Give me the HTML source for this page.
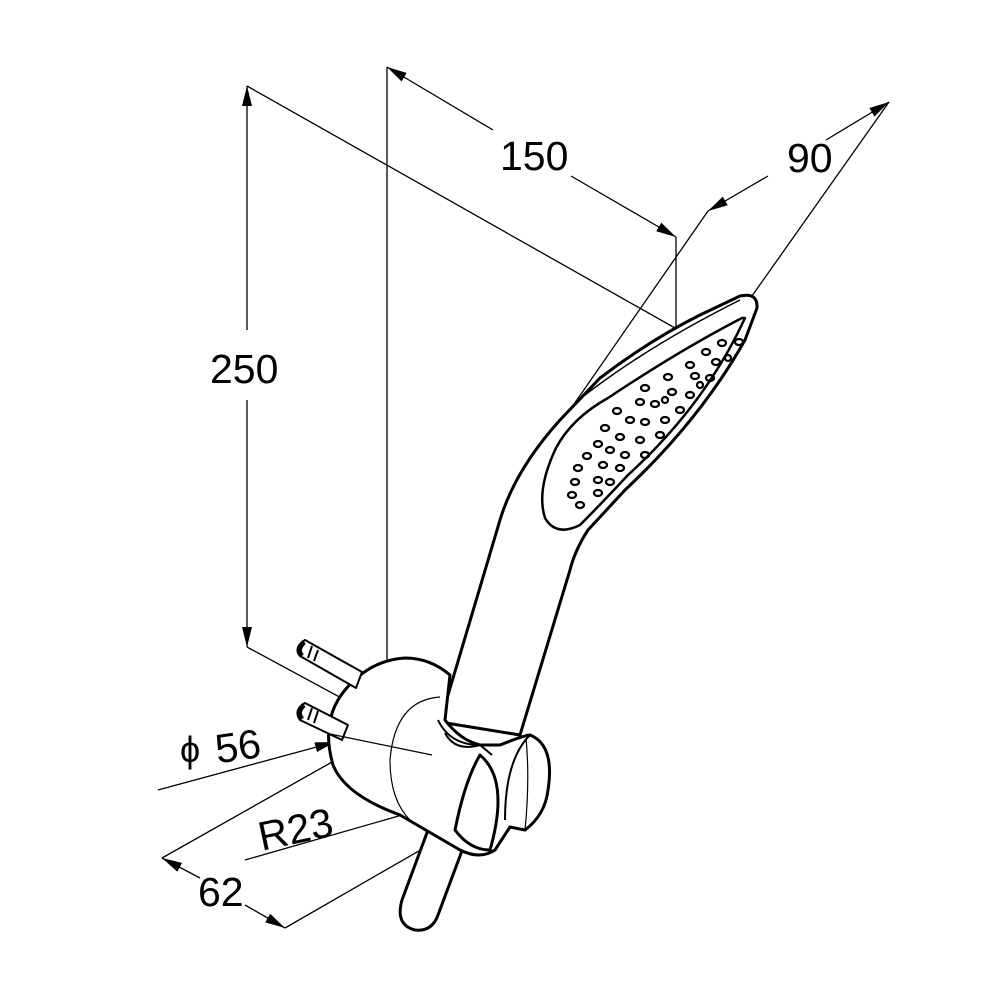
<!DOCTYPE html>
<html><head><style>html,body{margin:0;background:#fff}svg{display:block}text{font-family:"Liberation Sans",sans-serif;font-size:41px;fill:#000}</style></head><body>
<svg width="1000" height="1000" viewBox="0 0 1000 1000" xmlns="http://www.w3.org/2000/svg">
<defs><marker id="a" viewBox="0 0 20 10" refX="20" refY="5" markerWidth="20" markerHeight="10" markerUnits="userSpaceOnUse" orient="auto"><path d="M0,0L20,5L0,10z" fill="#000"/></marker></defs>
<g stroke="#000" stroke-width="1.3" fill="none">
<line x1="247" y1="330" x2="247" y2="86" marker-end="url(#a)"/>
<line x1="247" y1="400" x2="247" y2="647" marker-end="url(#a)"/>
<line x1="247" y1="86" x2="682" y2="332"/>
<line x1="247" y1="647" x2="432" y2="747"/>
<line x1="387" y1="67" x2="387" y2="665"/>
<line x1="493" y1="130" x2="387" y2="67" marker-end="url(#a)"/>
<line x1="571" y1="176" x2="676" y2="237" marker-end="url(#a)"/>
<line x1="676" y1="237" x2="676" y2="333"/>
<line x1="768" y1="176" x2="708" y2="211" marker-end="url(#a)"/>
<line x1="826" y1="140" x2="889" y2="102" marker-end="url(#a)"/>
<line x1="708" y1="211" x2="563" y2="420"/>
<line x1="889" y1="102" x2="747" y2="303"/>
<line x1="158" y1="790" x2="335" y2="742" marker-end="url(#a)"/>
<line x1="332" y1="762" x2="162" y2="858"/>
<line x1="200" y1="878" x2="162" y2="858" marker-end="url(#a)"/>
<line x1="245" y1="905" x2="285" y2="928" marker-end="url(#a)"/>
<line x1="285" y1="928" x2="530" y2="787"/>
<line x1="245" y1="860" x2="437" y2="805" marker-end="url(#a)"/>
<line x1="437" y1="805" x2="498" y2="791"/>
</g>
<g stroke="#000" stroke-width="3" fill="#fff" stroke-linejoin="round">
<path d="M428,830 L402,900 Q395,925 415,930 Q432,932 438,915 L463,848 Z"/>
<path d="M440,722 L500,520 Q515,470 560,420 L600,378 Q650,340 700,315 L740,296 Q758,292 757,308 L745,340 Q700,420 625,490 L588,530 Q575,550 570,570 L520,735 Z"/>
<path d="M745,318 Q705,405 628,475 Q600,505 580,525 Q556,537 545,518 Q536,490 556,448 Q572,418 608,398 Q680,350 742,318 Z" stroke-width="2.5"/>
<path d="M585,395 Q650,345 740,300" stroke-width="1.5" fill="none"/>
<path d="M333,765 Q320,720 345,690 Q370,660 405,658 Q430,658 450,675 L445,720 Q460,740 480,745 L500,745 Q525,735 530,735 Q555,745 548,790 Q545,815 525,830 L510,827 L495,850 Q480,860 460,850 L400,815 Q345,795 333,765 Z"/>
<path d="M438,720 Q450,745 480,745" fill="none" stroke-width="2"/>
<path d="M445,733 Q455,752 480,745 L492,755" fill="none" stroke-width="2"/>
<path d="M480,755 Q510,780 490,850 Q470,850 455,830 Q465,780 480,755 Z"/>
<path d="M530,735 Q505,760 505,820" fill="none" stroke-width="2"/>
<path d="M440,697 Q395,700 390,760 Q390,800 410,820" fill="none" stroke-width="1.2"/>
<path d="M526,738 Q530,780 525,830" fill="none" stroke-width="1.2"/>
<path d="M305,640 L362,672 L356,688 L300,656 Q293,648 305,640 Z" stroke-width="2"/>
<path d="M305,703 L348,725 L342,740 L300,720 Q293,710 305,703 Z" stroke-width="2"/>
</g>
<g stroke="#000" stroke-width="5" fill="none">
<path d="M304,642 Q296,650 302,656"/><path d="M304,705 Q296,712 302,719"/>
<line x1="312" y1="646" x2="308" y2="658" stroke-width="2"/><line x1="318" y1="650" x2="314" y2="661" stroke-width="2"/>
<line x1="312" y1="708" x2="308" y2="720" stroke-width="2"/><line x1="318" y1="711" x2="314" y2="723" stroke-width="2"/>
</g>
<line x1="330" y1="734" x2="432" y2="755" stroke="#000" stroke-width="1.2"/>
<g stroke="#000" stroke-width="2.2" fill="none">
<ellipse cx="722" cy="343" rx="4" ry="3"/><ellipse cx="739" cy="342" rx="4" ry="3"/><ellipse cx="706" cy="352" rx="4" ry="3"/><ellipse cx="690" cy="365" rx="4" ry="3"/><ellipse cx="716" cy="362" rx="4" ry="3"/><ellipse cx="668" cy="377" rx="4" ry="3"/><ellipse cx="695" cy="376" rx="4" ry="3"/><ellipse cx="710" cy="378" rx="4" ry="3"/><ellipse cx="645" cy="388" rx="4" ry="3"/><ellipse cx="672" cy="392" rx="4" ry="3"/><ellipse cx="690" cy="395" rx="4" ry="3"/><ellipse cx="640" cy="402" rx="4" ry="3"/><ellipse cx="655" cy="404" rx="4" ry="3"/><ellipse cx="680" cy="410" rx="4" ry="3"/><ellipse cx="617" cy="411" rx="4" ry="3"/><ellipse cx="630" cy="420" rx="4" ry="3"/><ellipse cx="645" cy="422" rx="4" ry="3"/><ellipse cx="665" cy="420" rx="4" ry="3"/><ellipse cx="605" cy="428" rx="4" ry="3"/><ellipse cx="620" cy="437" rx="4" ry="3"/><ellipse cx="640" cy="440" rx="4" ry="3"/><ellipse cx="660" cy="435" rx="4" ry="3"/><ellipse cx="598" cy="444" rx="4" ry="3"/><ellipse cx="610" cy="450" rx="4" ry="3"/><ellipse cx="625" cy="455" rx="4" ry="3"/><ellipse cx="645" cy="455" rx="4" ry="3"/><ellipse cx="587" cy="456" rx="4" ry="3"/><ellipse cx="603" cy="465" rx="4" ry="3"/><ellipse cx="620" cy="468" rx="4" ry="3"/><ellipse cx="578" cy="468" rx="4" ry="3"/><ellipse cx="598" cy="480" rx="4" ry="3"/><ellipse cx="610" cy="482" rx="4" ry="3"/><ellipse cx="575" cy="482" rx="4" ry="3"/><ellipse cx="598" cy="493" rx="4" ry="3"/><ellipse cx="572" cy="495" rx="4" ry="3"/><ellipse cx="580" cy="505" rx="4" ry="3"/><ellipse cx="665" cy="400" rx="3" ry="3"/><ellipse cx="700" cy="385" rx="3" ry="3"/><ellipse cx="728" cy="358" rx="3" ry="3"/>
</g>
<text x="500" y="170">150</text>
<text x="787" y="172">90</text>
<text x="210" y="383">250</text>
<text x="215" y="760" transform="rotate(-8 240 745)">56</text>
<text x="180" y="762" style="font-size:36px">ϕ</text>
<text x="257" y="843" transform="rotate(-12 297 825)">R23</text>
<text x="198" y="906">62</text>
</svg>
</body></html>
